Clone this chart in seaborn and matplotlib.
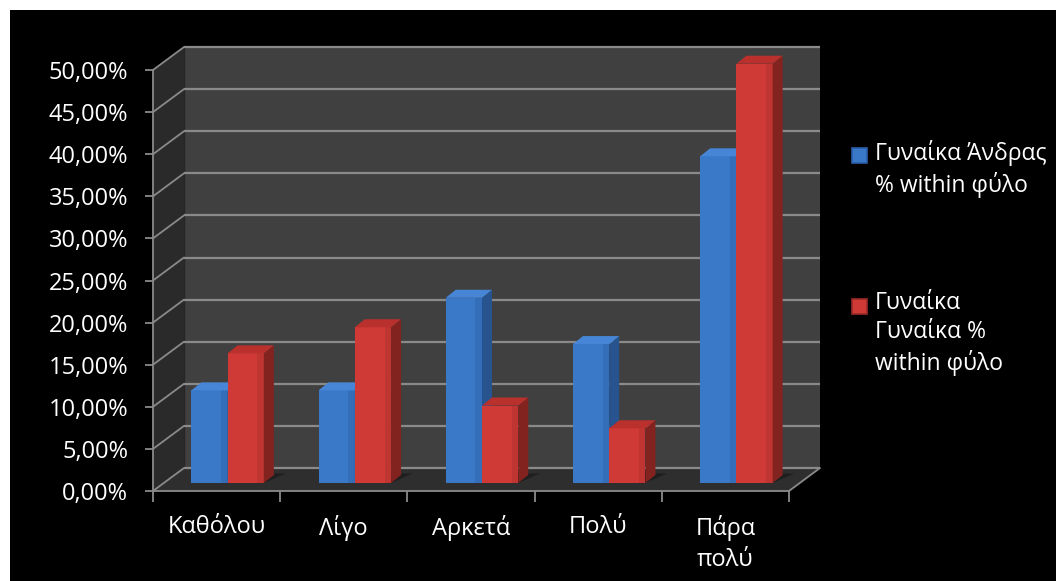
import numpy as np
import pandas as pd
import matplotlib
matplotlib.use("Agg")
import matplotlib.pyplot as plt
import matplotlib.transforms as mtransforms
from matplotlib.patches import Polygon, Rectangle
import seaborn as sns

# ---- data -------------------------------------------------------------
categories = ["Καθόλου", "Λίγο", "Αρκετά", "Πολύ", "Πάρα\nπολύ"]
series_names = ["Γυναίκα Άνδρας\n% within φύλο", "Γυναίκα\nΓυναίκα %\nwithin φύλο"]
men_pct = [11.0, 11.0, 22.0, 16.5, 38.8]
women_pct = [15.4, 18.5, 9.2, 6.5, 49.8]
y_ticks = [0, 5, 10, 15, 20, 25, 30, 35, 40, 45, 50]
y_tick_labels = ["0,00%", "5,00%", "10,00%", "15,00%", "20,00%", "25,00%",
                 "30,00%", "35,00%", "40,00%", "45,00%", "50,00%"]

df = pd.DataFrame({
    "cat": categories * 2,
    "val": men_pct + women_pct,
    "series": [series_names[0]] * 5 + [series_names[1]] * 5,
})

sns.set_theme(style="white")
plt.rcParams["font.family"] = ["Open Sans", "DejaVu Sans"]

W, H = 1056, 581
fig = plt.figure(figsize=(W / 100, H / 100), dpi=100)
fig.patch.set_facecolor("white")
# black chart area
fig.add_artist(Rectangle((10 / W, 0), 1, (H - 10) / H, transform=fig.transFigure,
                         facecolor="black", edgecolor="none", zorder=-10))

# axes = front plane of the 3-D box
x0, x1 = 153, 789
y0, y1 = 491, 70
ax = fig.add_axes([x0 / W, (H - y0) / H, (x1 - x0) / W, (y0 - y1) / H])
ax.set_facecolor("none")

blue, red = "#3a78c8", "#cf3a36"
side_cols = ["#27548f", "#832320"]
top_cols = ["#4786d6", "#b9302c"]

sns.barplot(data=df, x="cat", y="val", hue="series", order=categories,
            hue_order=series_names, palette=[blue, red], width=0.57,
            saturation=1, errorbar=None, legend=False, ax=ax)
bars = list(ax.patches)

ax.set_xlim(-0.5, 4.5)
ax.set_ylim(0, 50)

px_x = (x1 - x0) / 5.0      # pixels per category
px_y = (y0 - y1) / 50.0     # pixels per percent

# depth offsets (pixels): whole box, bar row, bar thickness
wall_dx, wall_dy = 31 / px_x, 23 / px_y
bar_shift = mtransforms.ScaledTranslation(11 / 100, 8 / 100, fig.dpi_scale_trans)
bar_tr = ax.transData + bar_shift
bdx, bdy = 10 / px_x, 8 / px_y

# walls and floor
back = Polygon([(-0.5 + wall_dx, wall_dy), (4.5 + wall_dx, wall_dy),
                (4.5 + wall_dx, 50 + wall_dy), (-0.5 + wall_dx, 50 + wall_dy)],
               closed=True, facecolor="#404040", edgecolor="none", zorder=0.2,
               clip_on=False)
left = Polygon([(-0.5, 0), (-0.5 + wall_dx, wall_dy), (-0.5 + wall_dx, 50 + wall_dy),
                (-0.5, 50)], closed=True, facecolor="#2a2a2a", edgecolor="none",
               zorder=0.3, clip_on=False)
floor = Polygon([(-0.5, 0), (4.5, 0), (4.5 + wall_dx, wall_dy), (-0.5 + wall_dx, wall_dy)],
                closed=True, facecolor="#2e2e2e", edgecolor="none", zorder=0.3,
                clip_on=False)
for p in (back, left, floor):
    ax.add_patch(p)

grid_c = "#8a8a8a"
for v in y_ticks:
    ax.plot([-0.5 + wall_dx, 4.5 + wall_dx], [v + wall_dy, v + wall_dy],
            color=grid_c, lw=1.6, zorder=0.5, clip_on=False, solid_capstyle="butt")
    ax.plot([-0.5, -0.5 + wall_dx], [v, v + wall_dy], color=grid_c, lw=1.3,
            zorder=0.5, clip_on=False)
ax.plot([4.5, 4.5 + wall_dx], [0, wall_dy], color=grid_c, lw=1.3, zorder=0.5,
        clip_on=False)
ax.plot([-0.5 + wall_dx] * 2, [wall_dy, 50 + wall_dy], color="#262626", lw=1.0,
        zorder=0.4, clip_on=False)

# floor shadows behind the bars
for b in bars:
    x, w, h = b.get_x(), b.get_width(), b.get_height()
    sh = Polygon([(x + w, 0), (x + w + bdx * 2.2, bdy * 1.2),
                  (x + bdx * 1.5, bdy * 1.2), (x, 0)], closed=True,
                 facecolor="#1c1c1c", edgecolor="none", alpha=0.8,
                 transform=bar_tr, zorder=0.6, clip_on=False)
    ax.add_patch(sh)

# bars: front face shifted into the box, plus side and top faces
n_cat = len(categories)
for i, b in enumerate(bars):
    s = i // n_cat
    c = i % n_cat
    z = 2 + c * 0.1 + s * 0.05
    x, y, w, h = b.get_x(), b.get_y(), b.get_width(), b.get_height()
    b.set_transform(bar_tr)
    b.set_clip_on(False)
    b.set_zorder(z)
    b.set_edgecolor("none")
    side = Polygon([(x + w, y), (x + w + bdx, y + bdy), (x + w + bdx, y + h + bdy),
                    (x + w, y + h)], closed=True, facecolor=side_cols[s],
                   edgecolor="none", transform=bar_tr, zorder=z + 0.01, clip_on=False)
    top = Polygon([(x, y + h), (x + w, y + h), (x + w + bdx, y + h + bdy),
                   (x + bdx, y + h + bdy)], closed=True, facecolor=top_cols[s],
                  edgecolor="none", transform=bar_tr, zorder=z + 0.01, clip_on=False)
    # soft shading towards the right edge of the front face
    sh_r = Rectangle((x + w * 0.82, y), w * 0.18, h, facecolor="black", alpha=0.08,
                     edgecolor="none", transform=bar_tr, zorder=z + 0.005, clip_on=False)
    ax.add_patch(side)
    ax.add_patch(top)
    ax.add_patch(sh_r)

# axes, ticks and labels
for sp in ("top", "right"):
    ax.spines[sp].set_visible(False)
for sp in ("left", "bottom"):
    ax.spines[sp].set_visible(True)
    ax.spines[sp].set_color(grid_c)
    ax.spines[sp].set_linewidth(1.3)
    ax.spines[sp].set_zorder(0.7)

ax.set_yticks(y_ticks)
ax.set_yticklabels(y_tick_labels)
ax.tick_params(axis="y", which="major", direction="out", length=6, width=1.3,
               color=grid_c, labelcolor="white", labelsize=17, pad=12, left=True)

ax.set_xticks(np.arange(-0.5, 5.0, 1.0))
ax.set_xticklabels([""] * 6)
ax.set_xticks(np.arange(5), minor=True)
ax.set_xticklabels(categories, minor=True)
ax.tick_params(axis="x", which="major", direction="out", length=8, width=1.3,
               color=grid_c, bottom=True)
ax.tick_params(axis="x", which="minor", length=0, labelcolor="white",
               labelsize=17, pad=17)
for t in ax.get_xticklabels(minor=True):
    t.set_verticalalignment("top")
    t.set_linespacing(1.42)
ax.set_xlabel("")
ax.set_ylabel("")

# legend
leg_entries = [(148, blue, "#2a5ea8", series_names[0]),
               (299, red, "#9a2a27", series_names[1])]
for ytop, fc, ec, label in leg_entries:
    fig.add_artist(Rectangle((852 / W, 1 - (ytop + 15) / H), 15 / W, 15 / H,
                             transform=fig.transFigure, facecolor=fc,
                             edgecolor=ec, lw=1.2))
    fig.text(875 / W, 1 - (ytop - 8) / H, label, color="white", fontsize=16.5,
             ha="left", va="top", linespacing=1.3)

fig.savefig("out.png", dpi=100, facecolor=fig.get_facecolor())
